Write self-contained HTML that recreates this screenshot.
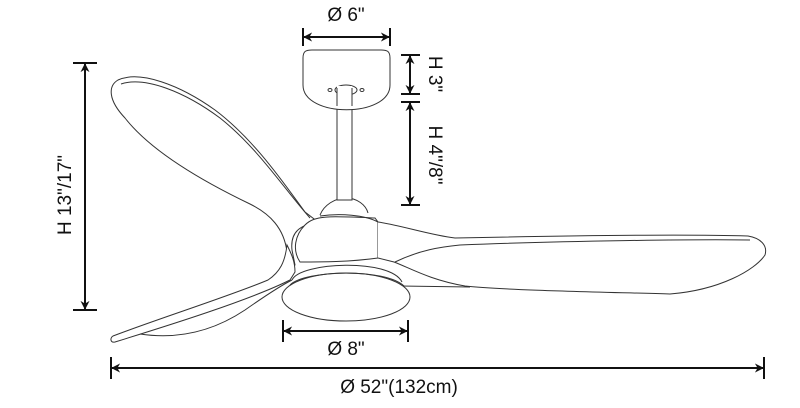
<!DOCTYPE html>
<html><head><style>
html,body{margin:0;padding:0;background:#fff;}
svg{display:block;}
text{font-family:"Liberation Sans",sans-serif;font-size:19px;fill:#111;}
</style></head><body>
<svg width="800" height="408" viewBox="0 0 800 408" xmlns="http://www.w3.org/2000/svg">
<defs>
<marker id="a" viewBox="0 0 10 10" refX="9" refY="5" markerWidth="9" markerHeight="9" orient="auto-start-reverse" markerUnits="userSpaceOnUse"><path d="M0,0 L10,5 L0,10 L3,5 Z" fill="#111"/></marker>
</defs>
<g fill="none" stroke="#333" stroke-width="1">
<path d="M118,80 C140,70 180,85 215,110 C255,140 285,185 305,212 L318,222 C300,225 290,232 292,250 L295,265 C290,270 287,262 287,252 C284,228 270,214 250,204 C200,180 150,150 125,118 C108,100 108,86 118,80 Z" fill="#fff"/>
<path d="M121,84 C145,76 185,92 220,118 C258,148 285,190 310,218"/>
<path d="M113,336 C160,318 230,296 268,280 C280,272 285,262 287,245 C292,255 295,262 295,272 L290,280 C250,300 170,325 115,342 C110,343 110,338 113,336 Z" fill="#fff"/>
<path d="M140,334 C180,340 215,330 245,310 C265,296 280,286 292,280"/>
<path d="M305,225 C315,215 330,216 375,218 L378,222 L378,258 C350,262 320,262 300,262 C292,250 295,235 305,225 Z" fill="#fff"/>
<path d="M320,216 C340,213 365,215 378,222"/>
<path d="M378,222 C400,225 430,235 455,238 C550,236 680,234 748,236 C760,238 768,245 765,255 C755,270 720,290 670,294 C600,292 500,290 465,286 C430,280 410,268 394,262 L378,258" fill="#fff"/>
<path d="M395,262 C420,250 440,247 460,245 C560,241 700,239 750,240"/>
<path d="M400,286 L470,287"/>
<path d="M320,215 C324,205 335,198 346,198 C357,198 366,205 368,213"/>
<rect x="337" y="88" width="15" height="112" fill="#fff"/>
<path d="M303,58 C303,51 306,50 312,50 L381,50 C387,50 390,51 390,58 L390,85 C390,118 303,118 303,85 Z" fill="#fff"/>
<ellipse cx="346" cy="90" rx="11" ry="5"/>
<rect x="337" y="86" width="15" height="20" fill="#fff" stroke="none"/>
<line x1="337" y1="88" x2="337" y2="106"/><line x1="352" y1="88" x2="352" y2="106"/>
<ellipse cx="330" cy="90" rx="2" ry="1.5"/><ellipse cx="362" cy="90" rx="2" ry="1.5"/>
<path d="M292,280 C300,262 390,258 402,282" fill="#fff"/>
<ellipse cx="346" cy="297" rx="64" ry="24" fill="#fff"/>
<path d="M290,285 C305,270 385,268 404,286"/>
</g>
<g stroke="#111" stroke-width="2" fill="none">
<line x1="303" y1="28" x2="303" y2="46"/><line x1="390" y1="28" x2="390" y2="46"/>
<line x1="304" y1="37" x2="389" y2="37" marker-start="url(#a)" marker-end="url(#a)"/>
<line x1="401" y1="55" x2="420" y2="55"/><line x1="401" y1="94" x2="420" y2="94"/>
<line x1="410" y1="56" x2="410" y2="93" marker-start="url(#a)" marker-end="url(#a)"/>
<line x1="401" y1="102" x2="420" y2="102"/><line x1="401" y1="205" x2="420" y2="205"/>
<line x1="410" y1="103" x2="410" y2="204" marker-start="url(#a)" marker-end="url(#a)"/>
<line x1="73" y1="63" x2="97" y2="63"/><line x1="73" y1="310" x2="97" y2="310"/>
<line x1="85" y1="64" x2="85" y2="309" marker-start="url(#a)" marker-end="url(#a)"/>
<line x1="283" y1="320" x2="283" y2="342"/><line x1="408" y1="320" x2="408" y2="342"/>
<line x1="284" y1="331" x2="407" y2="331" marker-start="url(#a)" marker-end="url(#a)"/>
<line x1="111" y1="357" x2="111" y2="379"/><line x1="764" y1="357" x2="764" y2="379"/>
<line x1="112" y1="368" x2="763" y2="368" marker-start="url(#a)" marker-end="url(#a)"/>
</g>
<text x="346" y="21" text-anchor="middle">Ø 6"</text>
<text transform="translate(429,74) rotate(90)" text-anchor="middle">H 3"</text>
<text transform="translate(429,155) rotate(90)" text-anchor="middle">H 4"/8"</text>
<text transform="translate(71,195) rotate(-90)" text-anchor="middle">H 13"/17"</text>
<text x="346" y="355" text-anchor="middle">Ø 8"</text>
<text x="399" y="393" text-anchor="middle">Ø 52"(132cm)</text>
</svg>
</body></html>
